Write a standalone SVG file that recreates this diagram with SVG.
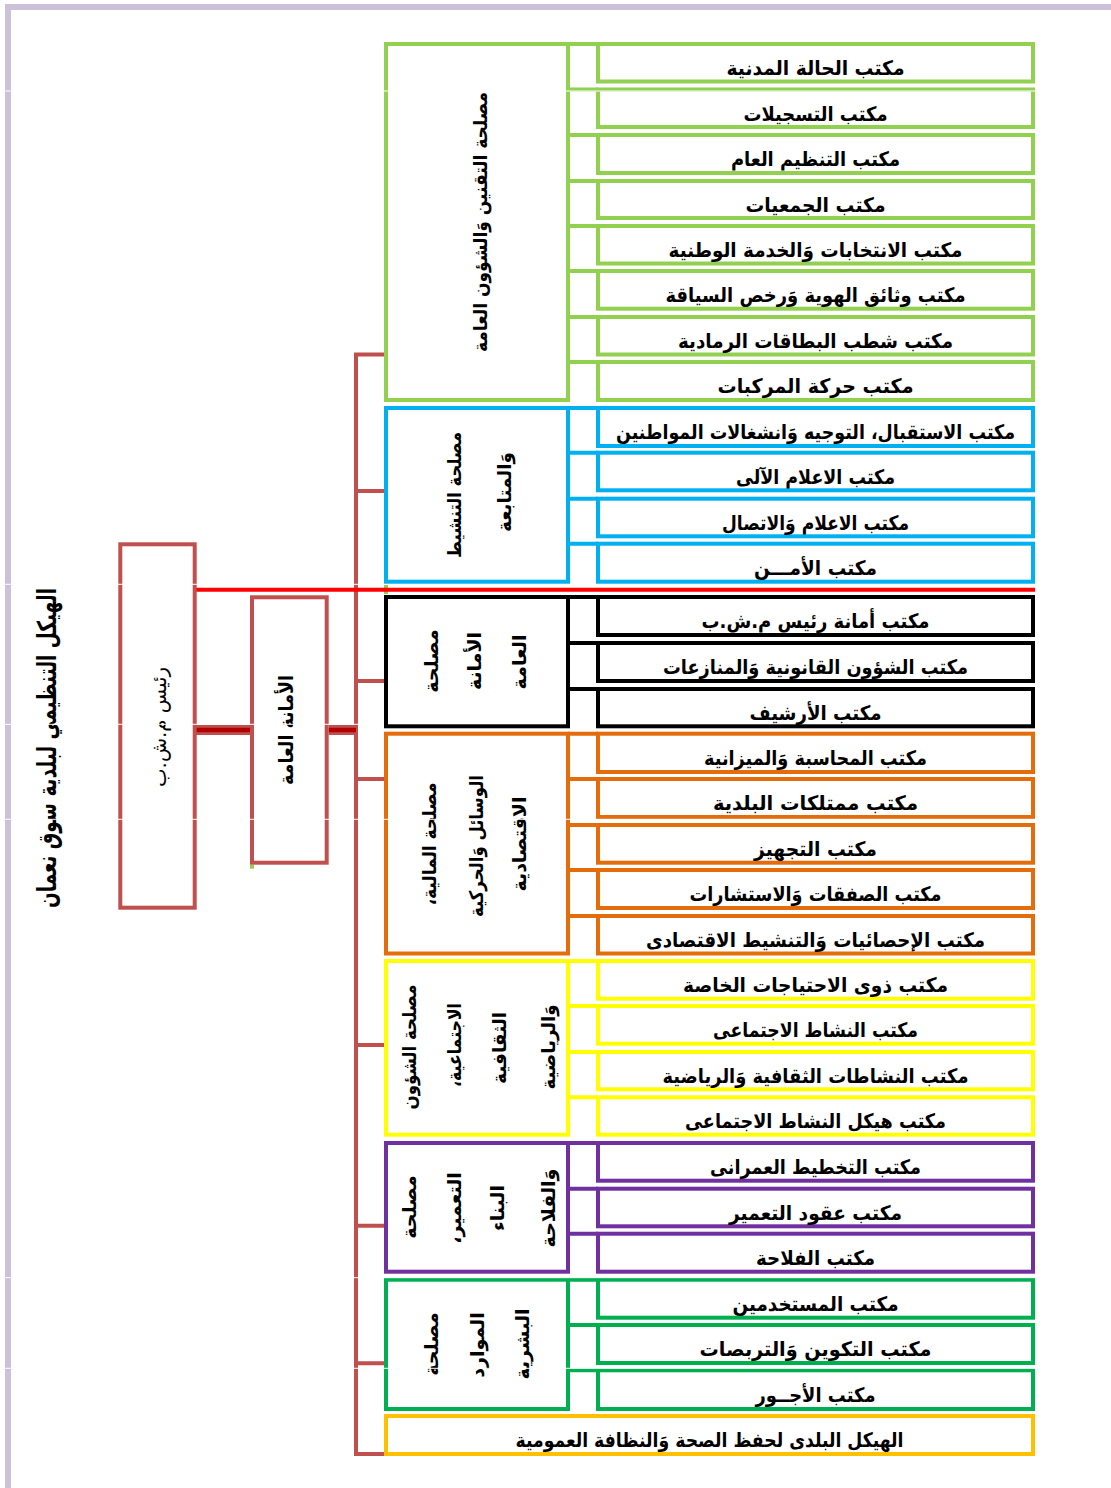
<svg xmlns="http://www.w3.org/2000/svg" width="1111" height="1488" viewBox="0 0 1111 1488">
<style>
  .box{fill:#fff;stroke-width:4}
  .g1{stroke:#92D050}
  .bl{stroke:#00B0F0}
  .bk{stroke:#000}
  .or{stroke:#E46C0A}
  .ye{stroke:#FFFF00}
  .pu{stroke:#7030A0}
  .g2{stroke:#00B050}
  .go{stroke:#FFC000}
  .lead{stroke:#C0504D;fill:#fff;stroke-width:4}
  .tree{stroke:#C0504D;stroke-width:4;fill:none}
  .lnk{stroke-width:4;fill:none}
  .seam{stroke:#fff;stroke-width:1}
  text{font-family:"DejaVu Sans",sans-serif;font-weight:bold;fill:#000;direction:rtl;text-anchor:middle}
  .off{font-size:20px}
  .dep{font-size:19px}
  .ttl{font-size:26px}
  .ld{font-size:20px}
</style>

<!-- page frame -->
<path d="M8,1488 V7 H1111" fill="none" stroke="#CCC0DA" stroke-width="6"/>

<!-- title -->
<g id="title">
  <text class="ttl" transform="translate(56,748) rotate(-90)" textLength="320" lengthAdjust="spacingAndGlyphs">الهيكل التنظيمي  لبلدية سوق نعمان</text>
</g>

<!-- connectors -->
<g id="connectors">
  <path class="tree" d="M386,354.5 H356 V1454 H386 M356,491 H386 M356,681 H386 M356,779 H386 M356,1045 H386 M356,1225.7 H386 M356,1363.3 H386"/>
  <path d="M195,730 H252 M328.7,730 H356" stroke="#C0504D" stroke-width="10" fill="none"/>
  <path d="M195,730 H252 M328.7,730 H356" stroke="#B00000" stroke-width="4.5" fill="none"/>
  <rect x="384" y="585" width="4" height="9" fill="#92D050"/>
  <rect x="250" y="864.7" width="4" height="4" fill="#92D050"/>
  <path d="M194,589.7 H1035" stroke="#FF0000" stroke-width="4" fill="none"/>
  <!-- office leads -->
  <path class="lnk g1" d="M568,44 H598 M568,89.5 H598 M568,135 H598 M568,181 H598 M568,226 H598 M568,271 H598 M568,317 H598 M568,362 H598"/>
  <path class="lnk bl" d="M568,408 H598 M568,452.7 H598 M568,498.7 H598 M568,543.7 H598"/>
  <path class="lnk bk" d="M568,597 H598 M568,643 H598 M568,689 H598"/>
  <path class="lnk or" d="M568,733.7 H598 M568,779 H598 M568,825 H598 M568,870 H598 M568,916 H598"/>
  <path class="lnk ye" d="M568,961 H598 M568,1006 H598 M568,1052 H598 M568,1097.3 H598"/>
  <path class="lnk pu" d="M568,1143 H598 M568,1188.7 H598 M568,1233.7 H598"/>
  <path class="lnk g2" d="M568,1279.7 H598 M568,1325 H598 M568,1370.3 H598"/>
</g>

<!-- mayor and secretariat -->
<g id="rais">
  <rect class="lead" x="120.3" y="544.3" width="74.4" height="363.4"/>
  <text class="ld" style="font-weight:normal" transform="translate(166,727) rotate(-90)" textLength="120" lengthAdjust="spacingAndGlyphs">رئيس م.ش.ب</text>
</g>
<g id="amana">
  <rect class="lead" x="252" y="597.3" width="74.7" height="265.4"/>
  <text class="ld" transform="translate(293,730) rotate(-90)" textLength="110" lengthAdjust="spacingAndGlyphs">الأمانة العامة</text>
</g>

<!-- departments -->
<g id="dep-taqnin">
  <rect class="box g1" x="386" y="44" width="182" height="356"/>
  <text class="dep" transform="translate(487,222) rotate(-90)" textLength="260" lengthAdjust="spacingAndGlyphs">مصلحة التقنين وَالشؤون العامة</text>
</g>
<g id="dep-tanshit">
  <rect class="box bl" x="386" y="408" width="182" height="173.7"/>
  <text class="dep" transform="translate(461,495) rotate(-90)" textLength="126" lengthAdjust="spacingAndGlyphs">مصلحة التنشيط</text>
  <text class="dep" transform="translate(511,492) rotate(-90)" textLength="80" lengthAdjust="spacingAndGlyphs">وَالمتابعة</text>
</g>
<g id="dep-amana">
  <rect class="box bk" x="386" y="597" width="182" height="129.3"/>
  <text class="dep" transform="translate(438,661) rotate(-90)">مصلحة</text>
  <text class="dep" transform="translate(481,661) rotate(-90)">الأمانة</text>
  <text class="dep" transform="translate(526,662) rotate(-90)">العامة</text>
</g>
<g id="dep-maliya">
  <rect class="box or" x="386" y="733.7" width="182" height="219.8"/>
  <text class="dep" transform="translate(436,844) rotate(-90)" textLength="123" lengthAdjust="spacingAndGlyphs">مصلحة المالية،</text>
  <text class="dep" transform="translate(483,846) rotate(-90)" textLength="142" lengthAdjust="spacingAndGlyphs">الوسائل وَالحركية</text>
  <text class="dep" transform="translate(526,844) rotate(-90)" textLength="95" lengthAdjust="spacingAndGlyphs">الاقتصادية</text>
</g>
<g id="dep-shuun">
  <rect class="box ye" x="386" y="961" width="182" height="173.7"/>
  <text class="dep" transform="translate(416,1047) rotate(-90)" textLength="125" lengthAdjust="spacingAndGlyphs">مصلحة الشؤون</text>
  <text class="dep" transform="translate(461,1045) rotate(-90)" textLength="84" lengthAdjust="spacingAndGlyphs">الاجتماعية،</text>
  <text class="dep" transform="translate(506,1048) rotate(-90)" textLength="72" lengthAdjust="spacingAndGlyphs">الثقافية</text>
  <text class="dep" transform="translate(555,1047) rotate(-90)" textLength="85" lengthAdjust="spacingAndGlyphs">وَالرياضية</text>
</g>
<g id="dep-taamir">
  <rect class="box pu" x="386" y="1143" width="182" height="128.7"/>
  <text class="dep" transform="translate(416,1207) rotate(-90)">مصلحة</text>
  <text class="dep" transform="translate(461,1208) rotate(-90)">التعمير،</text>
  <text class="dep" transform="translate(504,1208) rotate(-90)">البناء</text>
  <text class="dep" transform="translate(555,1208) rotate(-90)">وَالفلاحة</text>
</g>
<g id="dep-mawarid">
  <rect class="box g2" x="386" y="1279.7" width="182" height="129.3"/>
  <text class="dep" transform="translate(438,1344) rotate(-90)">مصلحة</text>
  <text class="dep" transform="translate(484,1345) rotate(-90)">الموارد</text>
  <text class="dep" transform="translate(529,1344) rotate(-90)">البشرية</text>
</g>

<!-- offices -->
<g id="off-1"><rect class="box g1" x="598" y="44" width="435" height="37.5"/><text class="off" x="815.5" y="75" textLength="178" lengthAdjust="spacingAndGlyphs">مكتب الحالة المدنية</text></g>
<g id="off-2"><rect class="box g1" x="598" y="89.5" width="435" height="37.5"/><text class="off" x="815.5" y="120.5" textLength="144" lengthAdjust="spacingAndGlyphs">مكتب التسجيلات</text></g>
<g id="off-3"><rect class="box g1" x="598" y="135" width="435" height="38"/><text class="off" x="815.5" y="166" textLength="169" lengthAdjust="spacingAndGlyphs">مكتب التنظيم العام</text></g>
<g id="off-4"><rect class="box g1" x="598" y="181" width="435" height="37"/><text class="off" x="815.5" y="212" textLength="140" lengthAdjust="spacingAndGlyphs">مكتب الجمعيات</text></g>
<g id="off-5"><rect class="box g1" x="598" y="226" width="435" height="37.5"/><text class="off" x="815.5" y="257" textLength="294" lengthAdjust="spacingAndGlyphs">مكتب الانتخابات وَالخدمة الوطنية</text></g>
<g id="off-6"><rect class="box g1" x="598" y="271" width="435" height="37.7"/><text class="off" x="815.5" y="302" textLength="300" lengthAdjust="spacingAndGlyphs">مكتب وثائق الهوية وَرخص السياقة</text></g>
<g id="off-7"><rect class="box g1" x="598" y="317" width="435" height="37.5"/><text class="off" x="815.5" y="348" textLength="275" lengthAdjust="spacingAndGlyphs">مكتب شطب البطاقات الرمادية</text></g>
<g id="off-8"><rect class="box g1" x="598" y="362" width="435" height="38"/><text class="off" x="815.5" y="393" textLength="196" lengthAdjust="spacingAndGlyphs">مكتب حركة المركبات</text></g>

<g id="off-9"><rect class="box bl" x="598" y="408" width="435" height="38"/><text class="off" x="815.5" y="439" textLength="399" lengthAdjust="spacingAndGlyphs">مكتب الاستقبال، التوجيه وَانشغالات المواطنين</text></g>
<g id="off-10"><rect class="box bl" x="598" y="452.7" width="435" height="37.6"/><text class="off" x="815.5" y="484" textLength="159" lengthAdjust="spacingAndGlyphs">مكتب الاعلام الآلى</text></g>
<g id="off-11"><rect class="box bl" x="598" y="498.7" width="435" height="37.6"/><text class="off" x="815.5" y="530" textLength="187" lengthAdjust="spacingAndGlyphs">مكتب الاعلام وَالاتصال</text></g>
<g id="off-12"><rect class="box bl" x="598" y="543.7" width="435" height="38"/><text class="off" x="815.5" y="575" textLength="123" lengthAdjust="spacingAndGlyphs">مكتب الأمـــن</text></g>

<g id="off-13"><rect class="box bk" x="598" y="597" width="435" height="38"/><text class="off" x="815.5" y="628" textLength="228" lengthAdjust="spacingAndGlyphs">مكتب أمانة رئيس م.ش.ب</text></g>
<g id="off-14"><rect class="box bk" x="598" y="643" width="435" height="38"/><text class="off" x="815.5" y="674" textLength="305" lengthAdjust="spacingAndGlyphs">مكتب الشؤون القانونية وَالمنازعات</text></g>
<g id="off-15"><rect class="box bk" x="598" y="689" width="435" height="37.3"/><text class="off" x="815.5" y="720" textLength="132" lengthAdjust="spacingAndGlyphs">مكتب الأرشيف</text></g>

<g id="off-16"><rect class="box or" x="598" y="733.7" width="435" height="38.3"/><text class="off" x="815.5" y="765" textLength="223" lengthAdjust="spacingAndGlyphs">مكتب المحاسبة وَالميزانية</text></g>
<g id="off-17"><rect class="box or" x="598" y="779" width="435" height="38"/><text class="off" x="815.5" y="810" textLength="205" lengthAdjust="spacingAndGlyphs">مكتب ممتلكات البلدية</text></g>
<g id="off-18"><rect class="box or" x="598" y="825" width="435" height="37.7"/><text class="off" x="815.5" y="856" textLength="123" lengthAdjust="spacingAndGlyphs">مكتب التجهيز</text></g>
<g id="off-19"><rect class="box or" x="598" y="870" width="435" height="38"/><text class="off" x="815.5" y="901" textLength="252" lengthAdjust="spacingAndGlyphs">مكتب الصفقات وَالاستشارات</text></g>
<g id="off-20"><rect class="box or" x="598" y="916" width="435" height="37.5"/><text class="off" x="815.5" y="947" textLength="339" lengthAdjust="spacingAndGlyphs">مكتب الإحصائيات وَالتنشيط الاقتصادى</text></g>

<g id="off-21"><rect class="box ye" x="598" y="961" width="435" height="37.7"/><text class="off" x="815.5" y="992" textLength="265" lengthAdjust="spacingAndGlyphs">مكتب ذوى الاحتياجات الخاصة</text></g>
<g id="off-22"><rect class="box ye" x="598" y="1006" width="435" height="37.7"/><text class="off" x="815.5" y="1037" textLength="205" lengthAdjust="spacingAndGlyphs">مكتب النشاط الاجتماعى</text></g>
<g id="off-23"><rect class="box ye" x="598" y="1052" width="435" height="37.3"/><text class="off" x="815.5" y="1083" textLength="306" lengthAdjust="spacingAndGlyphs">مكتب النشاطات الثقافية وَالرياضية</text></g>
<g id="off-24"><rect class="box ye" x="598" y="1097.3" width="435" height="37.4"/><text class="off" x="815.5" y="1128" textLength="261" lengthAdjust="spacingAndGlyphs">مكتب هيكل النشاط الاجتماعى</text></g>

<g id="off-25"><rect class="box pu" x="598" y="1143" width="435" height="37.7"/><text class="off" x="815.5" y="1174" textLength="211" lengthAdjust="spacingAndGlyphs">مكتب التخطيط العمرانى</text></g>
<g id="off-26"><rect class="box pu" x="598" y="1188.7" width="435" height="37.6"/><text class="off" x="815.5" y="1220" textLength="173" lengthAdjust="spacingAndGlyphs">مكتب عقود التعمير</text></g>
<g id="off-27"><rect class="box pu" x="598" y="1233.7" width="435" height="38"/><text class="off" x="815.5" y="1265" textLength="119" lengthAdjust="spacingAndGlyphs">مكتب الفلاحة</text></g>

<g id="off-28"><rect class="box g2" x="598" y="1279.7" width="435" height="38"/><text class="off" x="815.5" y="1311" textLength="166" lengthAdjust="spacingAndGlyphs">مكتب المستخدمين</text></g>
<g id="off-29"><rect class="box g2" x="598" y="1325" width="435" height="38"/><text class="off" x="815.5" y="1356" textLength="232" lengthAdjust="spacingAndGlyphs">مكتب التكوين وَالتربصات</text></g>
<g id="off-30"><rect class="box g2" x="598" y="1370.3" width="435" height="38.7"/><text class="off" x="815.5" y="1402" textLength="120" lengthAdjust="spacingAndGlyphs">مكتب الأجــور</text></g>

<g id="off-hygiene"><rect class="box go" x="386" y="1416" width="647" height="38"/><text class="off" x="709.5" y="1447" textLength="388" lengthAdjust="spacingAndGlyphs">الهيكل البلدى لحفظ الصحة وَالنظافة العمومية</text></g>

<!-- thin page seams -->
<g id="seams">
  <path class="seam" d="M0,91 H1111 M0,819.3 H1111 M0,1277.7 H1111 M0,1368.3 H1111 M0,584.3 H380 M0,724.3 H380"/>
</g>
</svg>
